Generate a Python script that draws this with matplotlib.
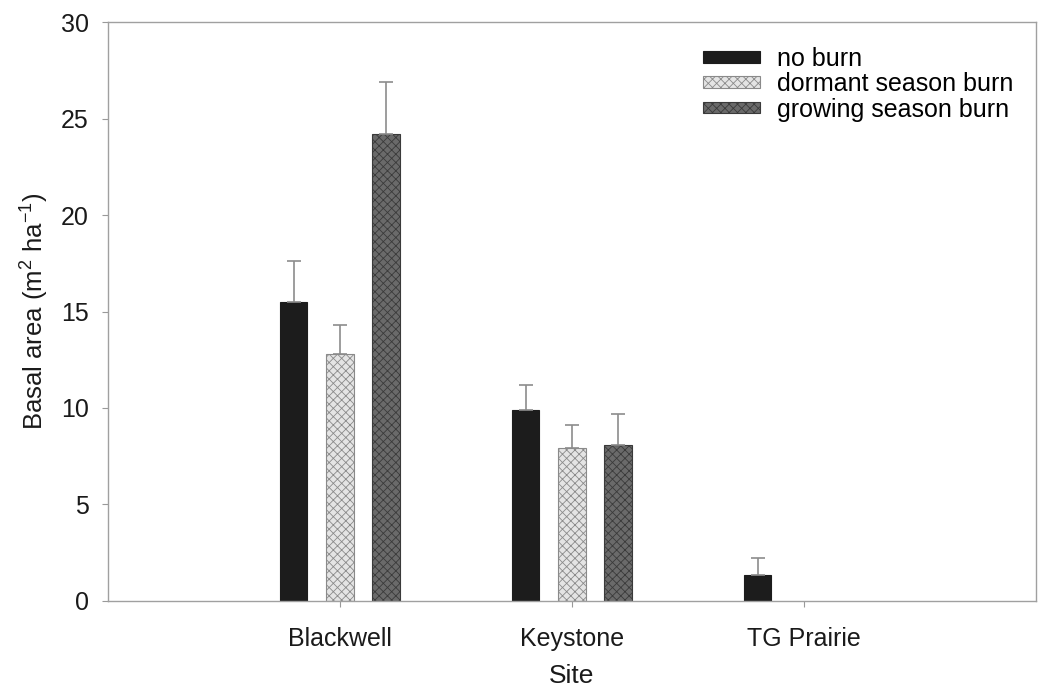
import numpy as np
import matplotlib
matplotlib.use("Agg")
import matplotlib.pyplot as plt

plt.rcParams['font.family'] = ['Liberation Sans', 'DejaVu Sans']
plt.rcParams['mathtext.fontset'] = 'custom'
plt.rcParams['mathtext.rm'] = 'Liberation Sans'
plt.rcParams['mathtext.it'] = 'Liberation Sans:italic'
plt.rcParams['hatch.linewidth'] = 0.6

# Data
sites = ['Blackwell', 'Keystone', 'TG Prairie']
treatments = ['no burn', 'dormant season burn', 'growing season burn']
no_burn = [15.5, 9.9, 1.35]
no_burn_err = [2.1, 1.3, 0.85]
dormant = [12.8, 7.9, 0.0]
dormant_err = [1.5, 1.2, 0.0]
growing = [24.2, 8.1, 0.0]
growing_err = [2.7, 1.6, 0.0]

fig = plt.figure(figsize=(10.38, 6.93), dpi=100)
ax = fig.add_axes([0.104, 0.133, 0.894, 0.835])

x = np.arange(1, len(sites) + 1)
w = 0.12
off = 0.2

styles = [
    dict(facecolor='#1c1c1c', edgecolor='#1c1c1c', hatch=None),
    dict(facecolor='#e4e4e4', edgecolor='#8a8a8a', hatch='xxxx'),
    dict(facecolor='#6a6a6a', edgecolor='#3a3a3a', hatch='xxxx'),
]
vals = [no_burn, dormant, growing]
errs = [no_burn_err, dormant_err, growing_err]

for i, (v, e, st, lab) in enumerate(zip(vals, errs, styles, treatments)):
    pos = x + (i - 1) * off
    v = np.array(v)
    e = np.array(e)
    show = v > 0
    ax.bar(pos[show], v[show], width=w, label=lab, linewidth=0.8, **st)
    ax.errorbar(pos[show], v[show], yerr=[np.zeros(show.sum()), e[show]],
                fmt='none', ecolor='#8c8c8c', elinewidth=1.2, capsize=5, capthick=1.2)

ax.set_xlim(0, 4)
ax.set_ylim(0, 30)
ax.set_xticks(x)
ax.set_xticklabels(sites)
ax.set_yticks(np.arange(0, 31, 5))
ax.tick_params(axis='both', labelsize=18, colors='#1a1a1a', length=4, width=0.8)
ax.tick_params(axis='both', color='#999999')
ax.tick_params(axis='y', pad=10)
ax.tick_params(axis='x', pad=15)
for sp in ax.spines.values():
    sp.set_color('#a0a0a0')
    sp.set_linewidth(1.0)

ax.set_xlabel('Site', fontsize=19, color='#1a1a1a', labelpad=9)
ax.set_ylabel(r'Basal area (m$^2$ ha$^{-1}$)', fontsize=18.5, color='#1a1a1a', labelpad=7)

leg = ax.legend(loc='upper left', bbox_to_anchor=(0.641, 0.957), frameon=False, fontsize=18,
                handlelength=2.3, handleheight=0.35, labelspacing=0.05, handletextpad=0.65,
                borderpad=0, borderaxespad=0)

fig.savefig('out.png', dpi=100)
